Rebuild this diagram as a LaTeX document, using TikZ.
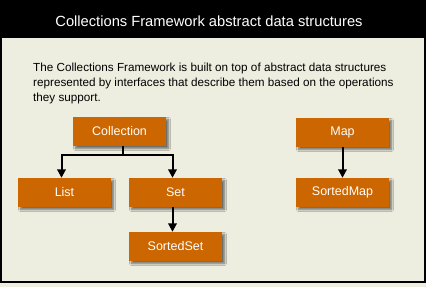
\documentclass[tikz,border=0pt]{standalone}
\usepackage{fontspec}
\setmainfont{Liberation Sans}
\usetikzlibrary{arrows.meta,shadows.blur}
\definecolor{cream}{HTML}{EDEDE0}
\definecolor{boxorange}{HTML}{CC6600}
\tikzset{
  box/.style={rectangle, fill=boxorange, text=white, minimum width=93pt, minimum height=29pt, inner sep=0pt,
    font=\fontsize{12.5}{14}\selectfont,
    blur shadow={shadow xshift=2.5pt, shadow yshift=-2.5pt, shadow blur steps=6, shadow blur radius=2pt, shadow opacity=55}},
  link/.style={line width=2pt, draw=black},
  arr/.style={link, -{Triangle[width=8.5pt,length=8.5pt]}},
  bodytext/.style={anchor=base west, inner sep=0pt, font=\fontsize{11.7}{15}\selectfont},
}
\begin{document}
\begin{tikzpicture}[x=1pt,y=-1pt]
\useasboundingbox (0,0) rectangle (426,287);
\fill[cream] (0,0) rectangle (426,287);
\draw[line width=2pt] (1,1) rectangle (425,282);
\fill[black] (0,0) rectangle (426,38);
\node[anchor=base, text=white, inner sep=0pt, font=\fontsize{14.7}{18}\selectfont] (title) at (209,26) {Collections Framework abstract data structures};
\node[bodytext] (t1) at (33,71) {The Collections Framework is built on top of abstract data structures};
\node[bodytext] (t2) at (33,86) {represented by interfaces that describe them based on the operations};
\node[bodytext] (t3) at (33,101) {they support.};

\node[box] (coll) at (119.5,131.5) {Collection};
\node[box] (list) at (64.5,192.5) {List};
\node[box] (set) at (175.5,192.5) {Set};
\node[box] (sset) at (175.5,246.5) {SortedSet};
\node[box] (map) at (342.5,132.5) {Map};
\node[box] (smap) at (342.5,192.5) {SortedMap};

\coordinate (junc) at ([xshift=3pt]coll.south |- 0,155);
\draw[link] ([xshift=3pt]coll.south) -- (junc);
\draw[arr] (junc) -| ([xshift=-3pt]list.north);
\draw[arr] (junc) -| ([xshift=-3pt]set.north);
\draw[arr] ([xshift=-3pt]set.south) -- ([xshift=-3pt]sset.north);
\draw[arr] (map.south) -- (smap.north);
\end{tikzpicture}
\end{document}
